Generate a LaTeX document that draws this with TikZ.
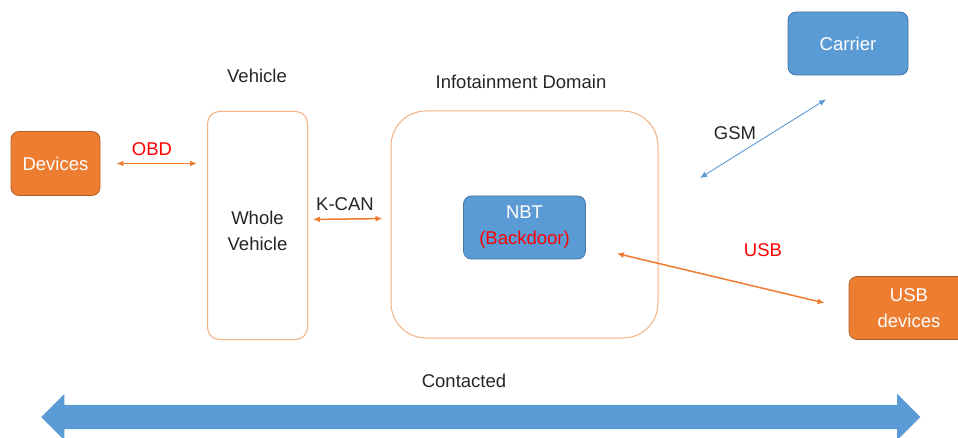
\documentclass[tikz,border=0pt]{standalone}
\usepackage{fontspec}
\setmainfont{Liberation Sans}
\usepackage{tikz}
\usetikzlibrary{arrows.meta,shapes.arrows}
\definecolor{boxorange}{HTML}{ED7D31}
\definecolor{boxblue}{HTML}{5B9BD5}
\definecolor{lineorange}{HTML}{F4B183}
\definecolor{labelred}{HTML}{FF0000}

\begin{document}
\begin{tikzpicture}[
  x=1pt, y=-1pt,
  font=\fontsize{18.5}{26}\selectfont,
  >={Latex[length=7pt,width=6pt]},
  solidbox/.style={rounded corners=8pt, line width=0.8pt, text=white,
    minimum width=120pt, minimum height=63pt, align=center},
  orangebox/.style={solidbox, fill=boxorange, draw=boxorange!75!black},
  bluebox/.style={solidbox, fill=boxblue, draw=boxblue!75!black},
  areabox/.style={draw=lineorange, line width=1pt, fill=white, align=center,
    text=black!85},
  tag/.style={text=black!85},
  redtag/.style={text=labelred},
  link/.style={<->, draw=boxorange, line width=1.5pt},
  gsmlink/.style={<->, draw=boxblue, line width=0.9pt},
  bigarrow/.style={double arrow, fill=boxblue, draw=none, inner sep=12pt,
    double arrow head extend=11pt, minimum height=879pt}
]
  \useasboundingbox (0,0) rectangle (958,438);

  % outer boxes
  \node[orangebox, minimum width=89pt, minimum height=64pt] (devices) at (55.5,163.5) {Devices};
  \node[areabox, rounded corners=12pt, minimum width=100pt, minimum height=228pt,
    label={[tag, align=center, yshift=-5pt]center:Whole\\Vehicle}]
    (wholeveh) at (257.5,225.5) {};
  \node[areabox, rounded corners=35pt, minimum width=267pt, minimum height=227pt]
    (infodom) at (524.5,224.5) {};
  \node[bluebox, minimum width=122pt] (nbt) at (524.5,227.5)
    {NBT\\\textcolor{labelred}{(Backdoor)}};
  \node[bluebox] (carrier) at (848,43.5) {Carrier};
  \node[orangebox] (usbdev) at (909,308) {USB\\devices};

  % titles
  \node[tag] (vehtitle) at (257,76) {Vehicle};
  \node[tag] (infotitle) at (521,82) {Infotainment Domain};
  \node[tag] (contacttitle) at (464,381) {Contacted};

  % links
  \coordinate (gsmlow) at (700,178);
  \draw[link, shorten <=16pt, shorten >=10pt] (devices.east) -- (devices.east -| wholeveh.west);
  \draw[link, shorten <=5pt, shorten >=8pt] ([yshift=6pt]wholeveh.east) -- ([yshift=6pt]infodom.west);
  \draw[gsmlink] (gsmlow) -- ([xshift=-22pt,yshift=-24pt]carrier.south);
  \draw[link] ([xshift=31pt,yshift=-26pt]nbt.east) -- ([xshift=-24pt,yshift=5pt]usbdev.west);

  \node[redtag] (obdtag) at (152,149) {OBD};
  \node[tag] (kcantag) at (345,204) {K-CAN};
  \node[tag] (gsmtag) at (735,133) {GSM};
  \node[redtag] (usbtag) at (763,250) {USB};

  % contact range
  \node[bigarrow] (contact) at (480.75,417) {};
\end{tikzpicture}
\end{document}
